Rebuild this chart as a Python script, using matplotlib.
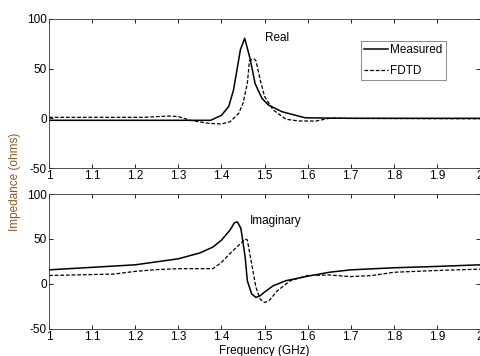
import matplotlib
matplotlib.use("Agg")
import matplotlib.pyplot as plt

plt.rcParams['font.family'] = ['Liberation Sans', 'DejaVu Sans']
plt.rcParams['font.size'] = 8.5
plt.rcParams['axes.unicode_minus'] = False

# Real part
f_re_meas = [1.0, 1.2, 1.375, 1.40, 1.417, 1.428, 1.444, 1.454, 1.467, 1.478, 1.494, 1.509, 1.54, 1.594, 1.7, 2.0]
re_meas = [-2, -2, -2, 3, 12, 28.5, 69, 80.5, 59, 35, 20, 13.4, 6.7, 0.5, 0, 0]
f_re_fdtd = [1.0, 1.22, 1.25, 1.28, 1.30, 1.33, 1.37, 1.40, 1.42, 1.44, 1.45, 1.46, 1.465, 1.475,
             1.48, 1.49, 1.50, 1.52, 1.55, 1.58, 1.62, 1.65, 2.0]
re_fdtd = [1, 1, 1.7, 2.3, 1.7, -2.3, -5, -5.7, -3.4, 5, 15, 35, 58, 60, 58, 38.6, 22, 8.4, -1,
           -2.7, -2.7, 0, -0.5]

# Imaginary part
f_im_meas = [1.0, 1.2, 1.3, 1.35, 1.38, 1.40, 1.42, 1.43, 1.437, 1.445, 1.455, 1.46, 1.47, 1.48,
             1.49, 1.50, 1.52, 1.55, 1.6, 1.65, 1.7, 1.8, 1.9, 2.0]
im_meas = [15.7, 21.3, 28, 34.5, 41, 48.7, 60, 68, 69, 62, 30, 3.7, -11, -15, -13, -9, -2, 3.7,
           8.6, 13, 15.7, 18, 19.5, 21.3]
f_im_fdtd = [1.0, 1.1, 1.15, 1.2, 1.25, 1.3, 1.38, 1.40, 1.42, 1.44, 1.455, 1.46, 1.47, 1.48,
             1.49, 1.50, 1.51, 1.53, 1.56, 1.6, 1.65, 1.7, 1.75, 1.8, 1.9, 2.0]
im_fdtd = [9.4, 10.5, 11, 14, 16, 17, 17, 24, 34, 43, 50, 49, 22.5, -3.7, -17, -20.6, -18.7,
           -7.5, 3.7, 9.4, 10, 8.2, 9.4, 13, 15, 16.5]

xticks = [1, 1.1, 1.2, 1.3, 1.4, 1.5, 1.6, 1.7, 1.8, 1.9, 2]
xticklabels = ['1', '1.1', '1.2', '1.3', '1.4', '1.5', '1.6', '1.7', '1.8', '1.9', '2']
yticks = [-50, 0, 50, 100]

fig = plt.figure(figsize=(4.81, 3.56), dpi=100)
ax1 = fig.add_axes([0.102, 0.528, 0.896, 0.419])
ax2 = fig.add_axes([0.102, 0.076, 0.896, 0.379])

for ax in (ax1, ax2):
    ax.set_xlim(1, 2)
    ax.set_ylim(-50, 100)
    ax.set_xticks(xticks)
    ax.set_xticklabels(xticklabels)
    ax.set_yticks(yticks)
    ax.tick_params(direction='in', top=True, right=True, length=3, width=0.6,
                   labelsize=8.5, pad=1.5)
    for s in ax.spines.values():
        s.set_linewidth(0.6)
        s.set_color('#333333')

ax1.plot(f_re_meas, re_meas, color='black', lw=1.1, label='Measured')
ax1.plot(f_re_fdtd, re_fdtd, color='black', lw=0.9, ls=(0, (3, 1.5)), label='FDTD')
ax1.text(1.50, 81, 'Real', fontsize=8.5, va='center')
leg = ax1.legend(loc='upper right', bbox_to_anchor=(0.92, 0.85), frameon=True, fancybox=False,
                 edgecolor='#555555', fontsize=8.5, handlelength=2.0, borderpad=0.25,
                 labelspacing=0.75, handletextpad=0.2, borderaxespad=0)
leg.get_frame().set_linewidth(0.6)

ax2.plot(f_im_meas, im_meas, color='black', lw=1.1)
ax2.plot(f_im_fdtd, im_fdtd, color='black', lw=0.9, ls=(0, (3, 1.5)))
ax2.text(1.466, 70, 'Imaginary', fontsize=8.5, va='center')
ax2.set_xlabel('Frequency (GHz)', fontsize=8.5, labelpad=1.5)

fig.text(0.031, 0.489, 'Impedance (ohms)', rotation=90, ha='center', va='center',
         fontsize=8.5, color='#8a5a22')

fig.savefig('out.png', dpi=100)
